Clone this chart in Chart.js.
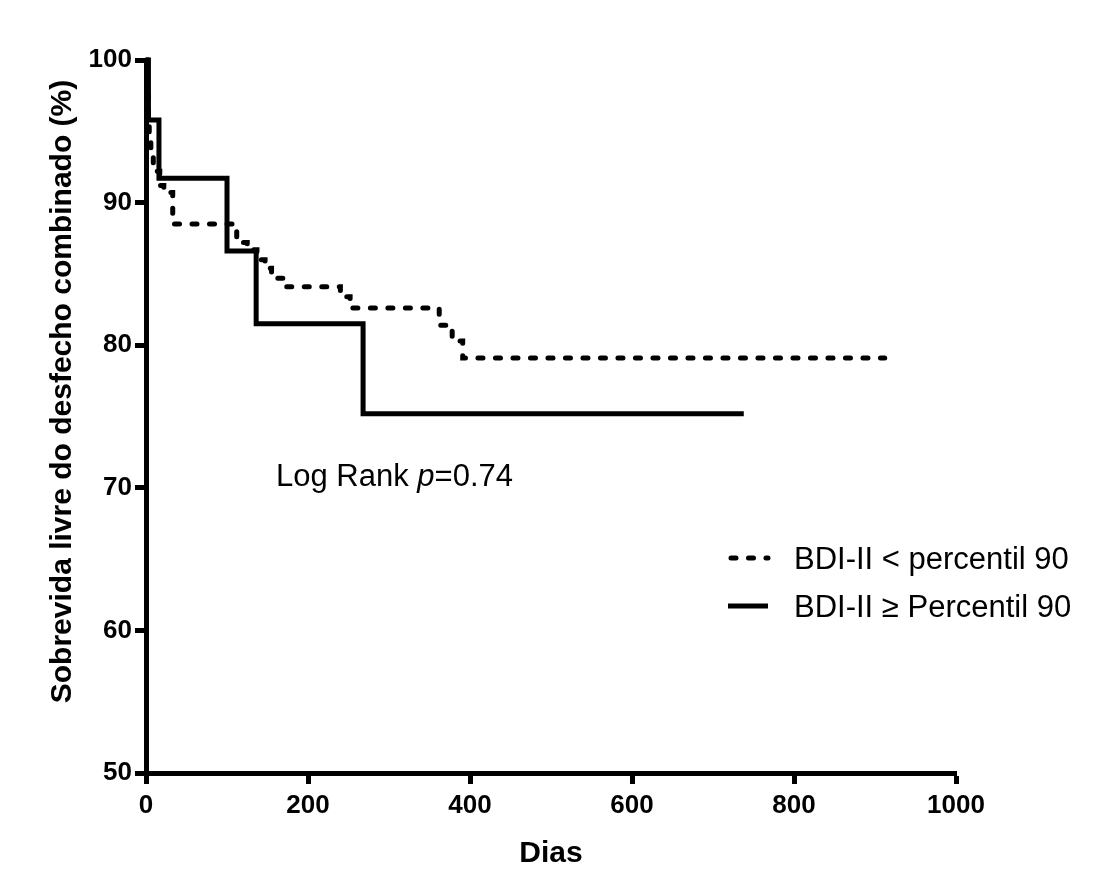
<!DOCTYPE html>
<html>
<head>
<meta charset="utf-8">
<script src="https://cdn.jsdelivr.net/npm/chart.js@4"></script>
<style>
  html, body { margin: 0; padding: 0; background: #fff; }
  #wrap { width: 1098px; height: 892px; }
</style>
</head>
<body>
<div id="wrap"><canvas id="kmChart" width="1098" height="892"></canvas></div>
<script>
// BDI-II < percentil 90 (dashed)
const lowDays = [0, 1, 2, 3, 4, 6, 9, 17, 22, 33, 112, 125, 137, 147, 155, 170, 240, 252, 362, 378, 391, 912];
const lowSurv = [100, 98.7, 97.4, 96.1, 94.8, 93.5, 92.2, 91.2, 90.7, 88.5, 87.2, 86.7, 86.0, 85.4, 84.7, 84.1, 83.4, 82.6, 81.4, 80.3, 79.1, 79.1];

// BDI-II >= percentil 90 (solid)
const highDays = [0, 3, 16, 100, 136, 268, 738];
const highSurv = [100, 95.8, 91.7, 86.6, 81.5, 75.2, 75.2];

const xTicks = [0, 200, 400, 600, 800, 1000];
const yTicks = [50, 60, 70, 80, 90, 100];

const seriesLabels = ["BDI-II < percentil 90", "BDI-II \u2265 Percentil 90"];
const pValueText = "0.74";

const FONT = "'Liberation Sans', Arial, Helvetica, sans-serif";

function toPoints(xs, ys) {
  return xs.map((x, i) => ({ x: x, y: ys[i] }));
}

// texto e legenda dentro do gráfico
const overlayPlugin = {
  id: "overlay",
  afterDraw(chart) {
    const ctx = chart.ctx;
    ctx.save();
    ctx.fillStyle = "#000";
    ctx.textBaseline = "alphabetic";

    // Log Rank p=0.74
    let x = 276, y = 486;
    ctx.font = "31px " + FONT;
    ctx.fillText("Log Rank ", x, y);
    x += ctx.measureText("Log Rank ").width;
    ctx.font = "italic 31px " + FONT;
    ctx.fillText("p", x, y);
    x += ctx.measureText("p").width;
    ctx.font = "31px " + FONT;
    ctx.fillText("=" + pValueText, x, y);

    // legenda
    const rows = [558, 606];
    chart.data.datasets.forEach((ds, i) => {
      ctx.strokeStyle = "#000";
      ctx.lineWidth = ds.borderWidth;
      ctx.lineCap = ds.borderDash ? "round" : "butt";
      ctx.setLineDash(ds.borderDash || []);
      ctx.beginPath();
      ctx.moveTo(ds.borderDash ? 731 : 728, rows[i]);
      ctx.lineTo(768, rows[i]);
      ctx.stroke();
      ctx.setLineDash([]);
      ctx.font = "31px " + FONT;
      ctx.fillText(ds.label, 794, rows[i] + 11);
    });
    ctx.restore();
  }
};

new Chart(document.getElementById("kmChart"), {
  type: "line",
  data: {
    datasets: [
      {
        label: seriesLabels[0],
        data: toPoints(lowDays, lowSurv),
        stepped: "before",
        borderColor: "#000",
        borderWidth: 5,
        borderDash: [5, 12.5],
        borderCapStyle: "round",
        pointRadius: 0,
        fill: false,
        clip: false
      },
      {
        label: seriesLabels[1],
        data: toPoints(highDays, highSurv),
        stepped: "before",
        borderColor: "#000",
        borderWidth: 5,
        borderJoinStyle: "miter",
        pointRadius: 0,
        fill: false,
        clip: false
      }
    ]
  },
  options: {
    responsive: false,
    animation: false,
    layout: { padding: { top: 60, right: 142, left: 0, bottom: 0 } },
    plugins: {
      legend: { display: false },
      tooltip: { enabled: false }
    },
    scales: {
      x: {
        type: "linear",
        min: 0,
        max: 1000,
        afterBuildTicks: (scale) => { scale.ticks = xTicks.map(v => ({ value: v })); },
        afterFit: (scale) => { scale.height = 119; },
        border: { display: true, color: "#000", width: 5 },
        grid: { drawOnChartArea: false, drawTicks: true, tickLength: 11, tickWidth: 5, tickColor: "#000" },
        ticks: {
          color: "#000",
          padding: 6,
          font: { family: FONT, size: 26, weight: "bold" },
          callback: (v) => String(v)
        },
        title: {
          display: true,
          text: "Dias",
          color: "#000",
          font: { family: FONT, size: 30, weight: "bold" },
          padding: { top: 0, bottom: 20 }
        }
      },
      y: {
        type: "linear",
        min: 50,
        max: 100,
        afterBuildTicks: (scale) => { scale.ticks = yTicks.map(v => ({ value: v })); },
        afterFit: (scale) => { scale.width = 146; },
        border: { display: true, color: "#000", width: 5 },
        grid: { drawOnChartArea: false, drawTicks: true, tickLength: 11, tickWidth: 5, tickColor: "#000" },
        ticks: {
          color: "#000",
          padding: 3,
          font: { family: FONT, size: 26, weight: "bold" },
          callback: (v) => String(v)
        },
        title: {
          display: true,
          text: "\u00A0\u00A0\u00A0\u00A0\u00A0\u00A0Sobrevida livre do desfecho combinado (%)",
          color: "#000",
          font: { family: FONT, size: 30, weight: "bold" },
          padding: { top: 45, bottom: 0 }
        }
      }
    }
  },
  plugins: [overlayPlugin]
});
</script>
</body>
</html>
